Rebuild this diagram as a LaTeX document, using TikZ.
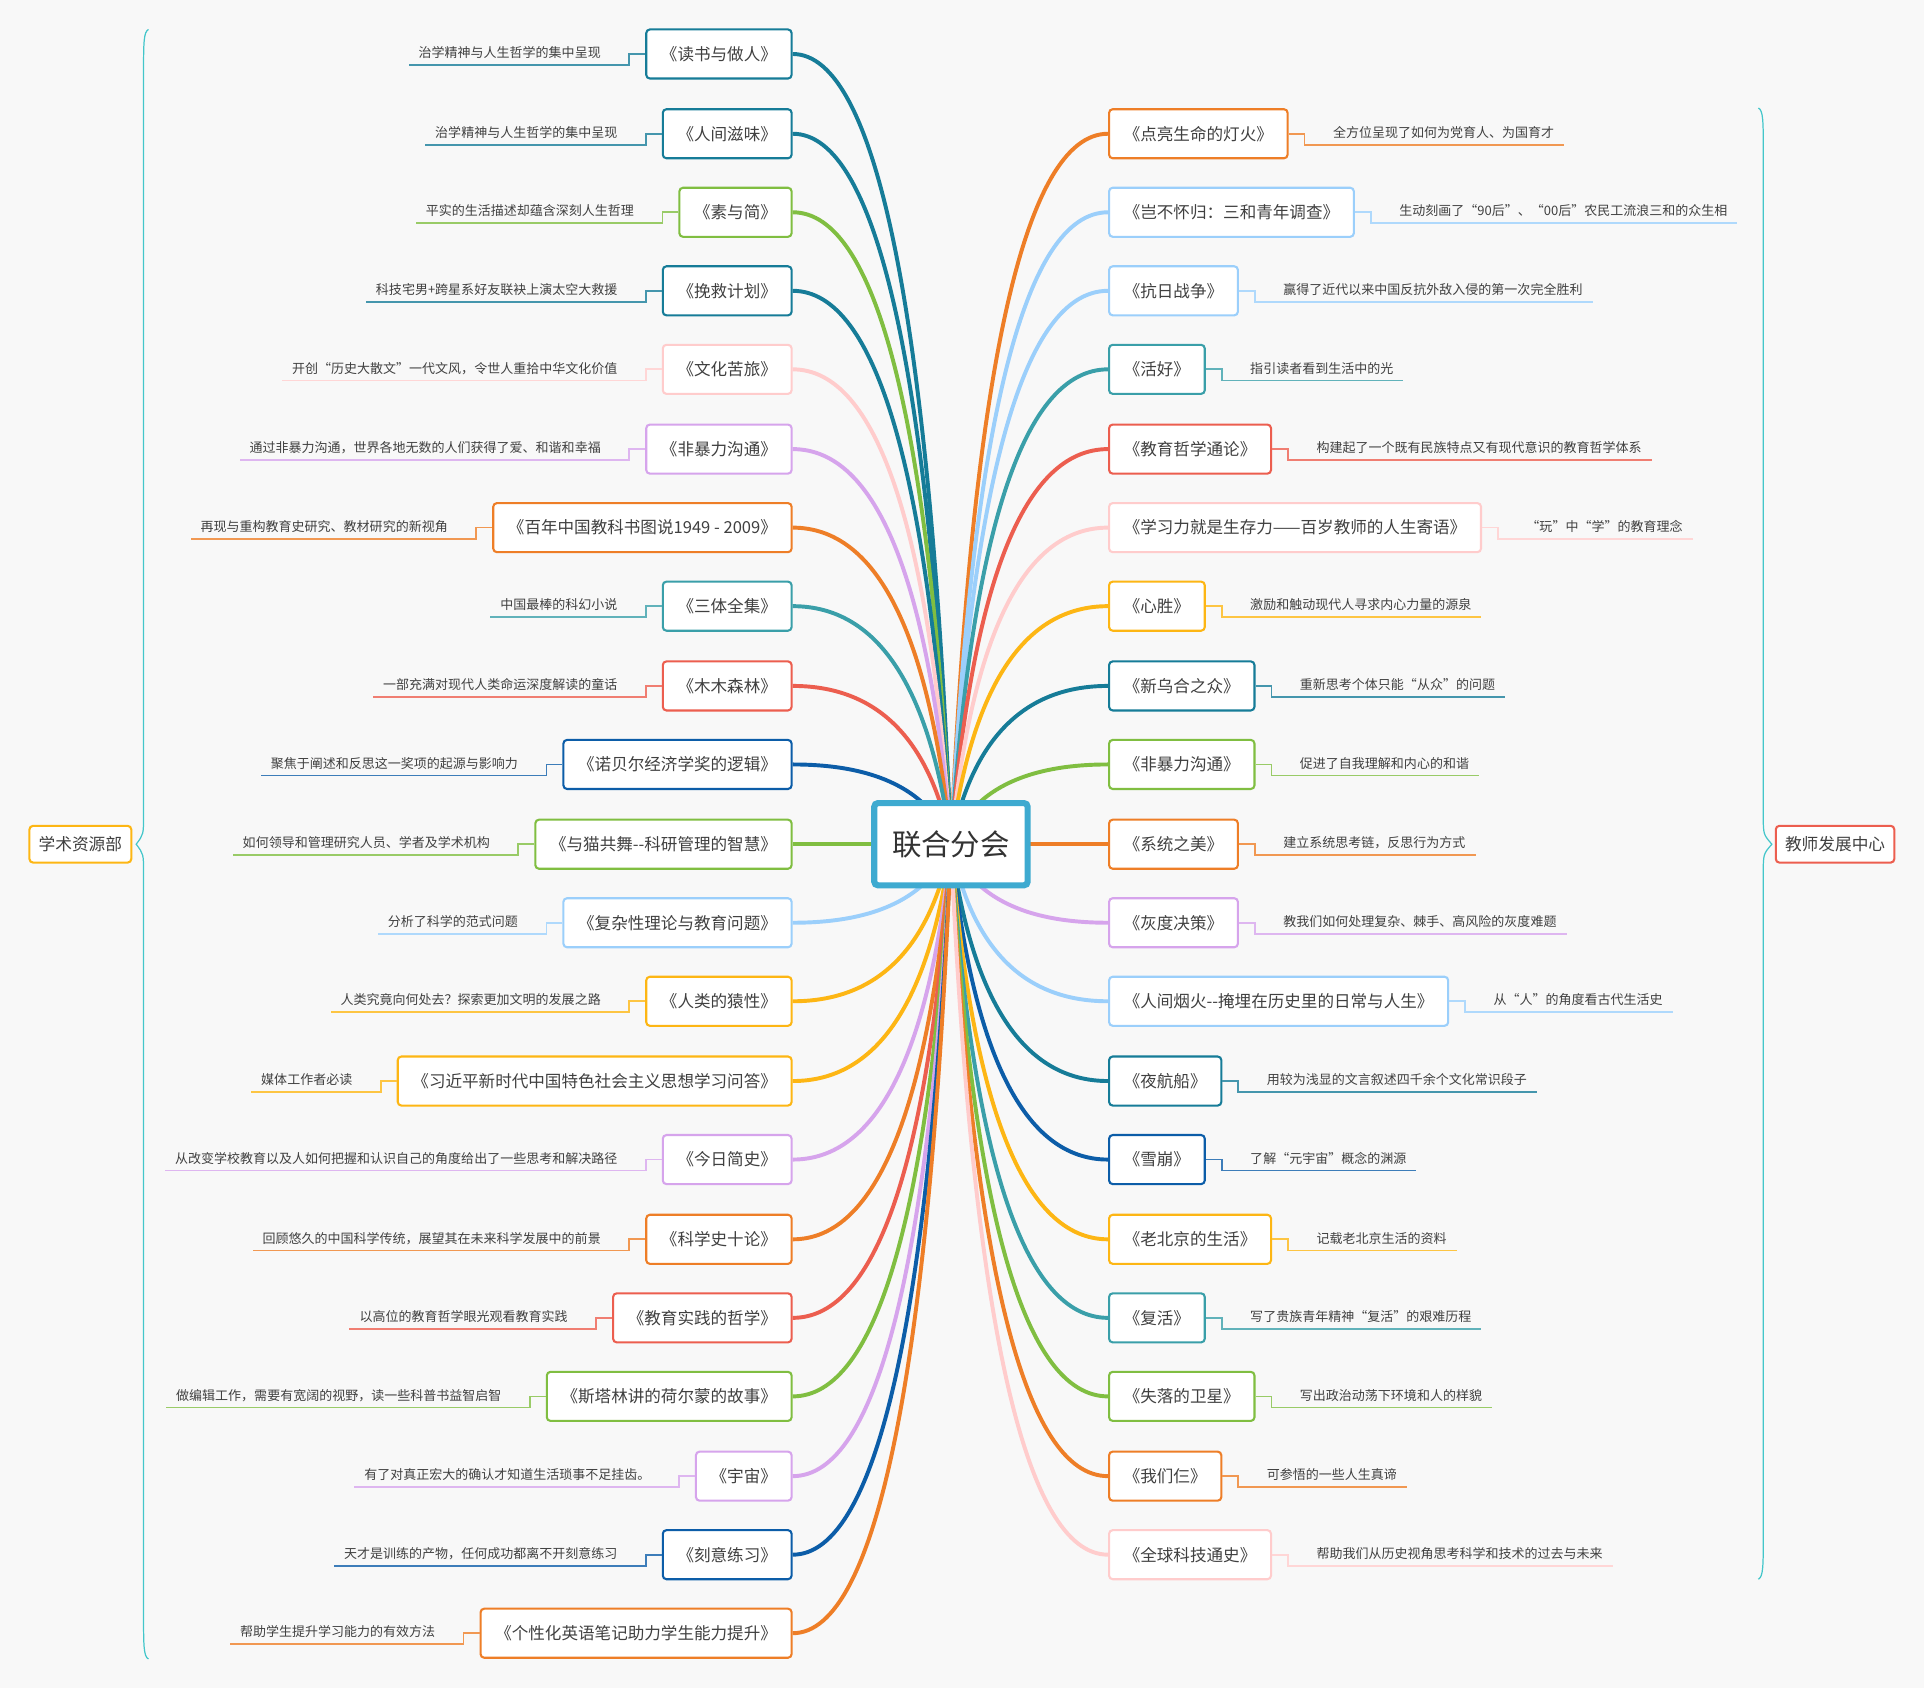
\documentclass[tikz,border=0pt]{standalone}
\usepackage{fontspec}
\newfontfamily\cjk{Noto Sans CJK SC}
\usetikzlibrary{calc,backgrounds}
\definecolor{cTeal}{HTML}{167C98}
\definecolor{cGreen}{HTML}{80BE41}
\definecolor{cPink}{HTML}{FFCCCC}
\definecolor{cLav}{HTML}{D6A4EC}
\definecolor{cOrange}{HTML}{EE7E27}
\definecolor{cTealB}{HTML}{3A9FA9}
\definecolor{cRed}{HTML}{EC5E4F}
\definecolor{cBlue}{HTML}{0C5DA8}
\definecolor{cLBlue}{HTML}{9BCFFB}
\definecolor{cYellow}{HTML}{FDB614}
\definecolor{cHub}{HTML}{3EAAD0}
\definecolor{cBrace}{HTML}{43C6CA}
\definecolor{cBg}{HTML}{F8F8F8}
\definecolor{cText}{HTML}{404040}
\tikzset{
  book/.style={draw=#1, line width=1.7pt, rounded corners=3pt, fill=white,
    minimum height=40pt, inner xsep=12pt, inner ysep=0pt, text=cText,
    font={\cjk\fontsize{13.5pt}{16pt}\selectfont}},
  desc/.style={inner sep=0pt, text=cText, font={\cjk\fontsize{10.6pt}{13pt}\selectfont}},
  dline/.style={draw=#1!80, line width=1.4pt},
  branch/.style={draw=#1, line width=3.2pt},
  side/.style={draw=#1, line width=1.7pt, rounded corners=3pt, fill=white,
    minimum height=30pt, inner xsep=7.5pt, inner ysep=0pt, text=cText,
    font={\cjk\fontsize{13.6pt}{16pt}\selectfont}},
  bracel/.style={draw=cBrace, line width=1pt}
}
\newcommand{\lbook}[5]{%
  \node[book=#3, anchor=east] (#1) at (646,#2) {#4};
  \node[desc, anchor=base east] (#1d) at ($(#1.west)+(-36,3)$) {#5};
  \draw[dline=#3] (#1.west) -- ++(-13,0) |- ($(#1d.base west)+(-8,6)$);
  \begin{scope}[on background layer]
  \draw[branch=#3] let \p1=(hub.center), \p2=(#1.east) in (\p1) .. controls ({\x1+0.1333*(\x2-\x1)},{\y1+0.6667*(\y2-\y1)}) and ({\x2+0.5333*(\x1-\x2)},{\y2}) .. (\p2);
  \end{scope}
}
\newcommand{\rbook}[5]{%
  \node[book=#3, anchor=west] (#1) at (903,#2) {#4};
  \node[desc, anchor=base west] (#1d) at ($(#1.east)+(36,3)$) {#5};
  \draw[dline=#3] (#1.east) -- ++(13,0) |- ($(#1d.base east)+(8,6)$);
  \begin{scope}[on background layer]
  \draw[branch=#3] let \p1=(hub.center), \p2=(#1.west) in (\p1) .. controls ({\x1+0.1333*(\x2-\x1)},{\y1+0.6667*(\y2-\y1)}) and ({\x2+0.5333*(\x1-\x2)},{\y2}) .. (\p2);
  \end{scope}
}
\begin{document}
\begin{tikzpicture}[x=1pt,y=-1pt]
\useasboundingbox (0,0) rectangle (1568,1376);
\begin{scope}[on background layer]
\fill[cBg] (0,0) rectangle (1568,1376);
\end{scope}
\node[draw=cHub, line width=5pt, rounded corners=3pt, fill=white, minimum width=125pt, minimum height=67pt, text=black!80, font={\cjk\fontsize{24pt}{28pt}\selectfont}] (hub) at (775,688) {联合分会};

\lbook{L1}{44}{cTeal}{《读书与做人》}{治学精神与人生哲学的集中呈现}
\lbook{L2}{109}{cTeal}{《人间滋味》}{治学精神与人生哲学的集中呈现}
\lbook{L3}{173}{cGreen}{《素与简》}{平实的生活描述却蕴含深刻人生哲理}
\lbook{L4}{237}{cTeal}{《挽救计划》}{科技宅男+跨星系好友联袂上演太空大救援}
\lbook{L5}{301}{cPink}{《文化苦旅》}{开创“历史大散文”一代文风，令世人重拾中华文化价值}
\lbook{L6}{366}{cLav}{《非暴力沟通》}{通过非暴力沟通，世界各地无数的人们获得了爱、和谐和幸福}
\lbook{L7}{430}{cOrange}{《百年中国教科书图说1949 - 2009》}{再现与重构教育史研究、教材研究的新视角}
\lbook{L8}{494}{cTealB}{《三体全集》}{中国最棒的科幻小说}
\lbook{L9}{559}{cRed}{《木木森林》}{一部充满对现代人类命运深度解读的童话}
\lbook{L10}{623}{cBlue}{《诺贝尔经济学奖的逻辑》}{聚焦于阐述和反思这一奖项的起源与影响力}
\lbook{L11}{688}{cGreen}{《与猫共舞--科研管理的智慧》}{如何领导和管理研究人员、学者及学术机构}
\lbook{L12}{752}{cLBlue}{《复杂性理论与教育问题》}{分析了科学的范式问题}
\lbook{L13}{816}{cYellow}{《人类的猿性》}{人类究竟向何处去？探索更加文明的发展之路}
\lbook{L14}{881}{cYellow}{《习近平新时代中国特色社会主义思想学习问答》}{媒体工作者必读}
\lbook{L15}{945}{cLav}{《今日简史》}{从改变学校教育以及人如何把握和认识自己的角度给出了一些思考和解决路径}
\lbook{L16}{1010}{cOrange}{《科学史十论》}{回顾悠久的中国科学传统，展望其在未来科学发展中的前景}
\lbook{L17}{1074}{cRed}{《教育实践的哲学》}{以高位的教育哲学眼光观看教育实践}
\lbook{L18}{1138}{cGreen}{《斯塔林讲的荷尔蒙的故事》}{做编辑工作，需要有宽阔的视野，读一些科普书益智启智}
\lbook{L19}{1203}{cLav}{《宇宙》}{有了对真正宏大的确认才知道生活琐事不足挂齿。}
\lbook{L20}{1267}{cBlue}{《刻意练习》}{天才是训练的产物，任何成功都离不开刻意练习}
\lbook{L21}{1331}{cOrange}{《个性化英语笔记助力学生能力提升》}{帮助学生提升学习能力的有效方法}

\rbook{R1}{109}{cOrange}{《点亮生命的灯火》}{全方位呈现了如何为党育人、为国育才}
\rbook{R2}{173}{cLBlue}{《岂不怀归：三和青年调查》}{生动刻画了“90后”、“00后”农民工流浪三和的众生相}
\rbook{R3}{237}{cLBlue}{《抗日战争》}{赢得了近代以来中国反抗外敌入侵的第一次完全胜利}
\rbook{R4}{301}{cTealB}{《活好》}{指引读者看到生活中的光}
\rbook{R5}{366}{cRed}{《教育哲学通论》}{构建起了一个既有民族特点又有现代意识的教育哲学体系}
\rbook{R6}{430}{cPink}{《学习力就是生存力——百岁教师的人生寄语》}{“玩”中“学”的教育理念}
\rbook{R7}{494}{cYellow}{《心胜》}{激励和触动现代人寻求内心力量的源泉}
\rbook{R8}{559}{cTeal}{《新乌合之众》}{重新思考个体只能“从众”的问题}
\rbook{R9}{623}{cGreen}{《非暴力沟通》}{促进了自我理解和内心的和谐}
\rbook{R10}{688}{cOrange}{《系统之美》}{建立系统思考链，反思行为方式}
\rbook{R11}{752}{cLav}{《灰度决策》}{教我们如何处理复杂、棘手、高风险的灰度难题}
\rbook{R12}{816}{cLBlue}{《人间烟火--掩埋在历史里的日常与人生》}{从“人”的角度看古代生活史}
\rbook{R13}{881}{cTeal}{《夜航船》}{用较为浅显的文言叙述四千余个文化常识段子}
\rbook{R14}{945}{cBlue}{《雪崩》}{了解“元宇宙”概念的渊源}
\rbook{R15}{1010}{cYellow}{《老北京的生活》}{记载老北京生活的资料}
\rbook{R16}{1074}{cTealB}{《复活》}{写了贵族青年精神“复活”的艰难历程}
\rbook{R17}{1138}{cGreen}{《失落的卫星》}{写出政治动荡下环境和人的样貌}
\rbook{R18}{1203}{cOrange}{《我们仨》}{可参悟的一些人生真谛}
\rbook{R19}{1267}{cPink}{《全球科技通史》}{帮助我们从历史视角思考科学和技术的过去与未来}

\node[side=cYellow] (gl) at (65.5,688) {学术资源部};
\node[side=cRed] (gr) at (1495.5,688) {教师发展中心};

\coordinate (bl) at (111,688);
\coordinate (br) at (1444,688);
\draw[bracel] (121,24) .. controls (117,26) and (117,35) .. (117,60) -- (117,664) .. controls (117,680) .. (bl) .. controls (117,696) .. (117,712) -- (117,1316) .. controls (117,1341) and (117,1350) .. (121,1352);
\draw[bracel] (1433,88) .. controls (1437,90) and (1437,99) .. (1437,124) -- (1437,664) .. controls (1437,680) .. (br) .. controls (1437,696) .. (1437,712) -- (1437,1251) .. controls (1437,1276) and (1437,1285) .. (1433,1287);
\end{tikzpicture}
\end{document}
